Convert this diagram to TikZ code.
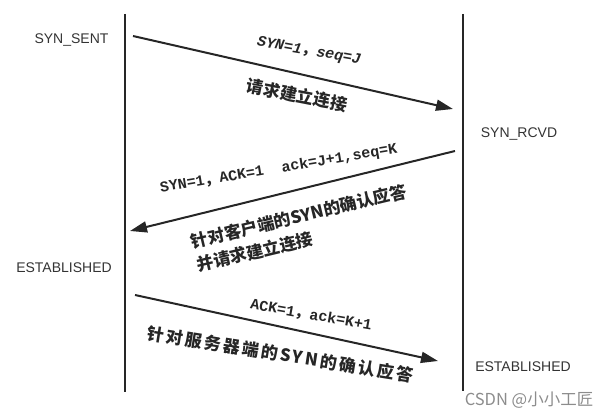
\documentclass[tikz,border=0pt]{standalone}
\usepackage{fontspec}
\setmainfont{Liberation Sans}
\newfontfamily\cjk{Noto Sans CJK SC}
\newfontfamily\mono{Liberation Mono}
\usetikzlibrary{arrows.meta}
\tikzset {>={Triangle[length=17pt,width=11pt]}}
\definecolor{ink}{HTML}{262626}
\definecolor{statecol}{HTML}{333333}
\definecolor{markcol}{HTML}{8C8C8C}
\tikzset{
  state/.style={text=statecol, inner sep=0pt, font=\fontsize{14}{16}\selectfont},
  msg/.style={text=ink, inner sep=0pt, font=\mono\bfseries\fontsize{15}{18}\selectfont},
  note/.style={text=ink, inner sep=0pt, align=left, font=\cjk\bfseries\fontsize{17}{24}\selectfont},
  lifeline/.style={draw=ink, line width=2pt},
  packet/.style={->, draw=ink, line width=2pt}
}

\begin{document}
\begin{tikzpicture}[x=1pt,y=-1pt]
\useasboundingbox (0,0) rectangle (611,417);

% client and server
\draw[lifeline]
  (125,14) coordinate (A) -- (125,392) coordinate (B);
\draw[lifeline]
  (463,14) coordinate (C) -- (463,391) coordinate (D);

\node[state] (sent) at (71.5,40) {SYN\_SENT};
\node[state] (rcvd) at (519,134) {SYN\_RCVD};
\node[state] (estA) at (64,268) {ESTABLISHED};
\node[state] (estB) at (523,366.5) {ESTABLISHED};

% first handshake
\draw[packet] (133,36) coordinate (E) -- (453,109) coordinate (F);
\node[msg, rotate=-10, font=\mono\bfseries\itshape\fontsize{15}{18}\selectfont] (synJ) at (309,51.5)
  {SYN=1{\cjk ，}seq=J};
\node[note, rotate=-11] (req1) at (297,95.3) {请求建立连接};

% second handshake
\draw[packet] (455,151) coordinate (G) -- (130,231) coordinate (H);
\node[msg, rotate=9.5] (synK) at (278.7,168.8)
  {SYN=1{\cjk ，}ACK=1\ \ ack=J+1,seq=K};
\node[note, rotate=13.5] (req2) at (301.6,228.2)
  {针对客户端的SYN的确认应答\\并请求建立连接};

% third handshake
\draw[packet] (135,295) coordinate (I) -- (438,361) coordinate (J);
\node[msg, rotate=-10] (ackK) at (311.2,315.3)
  {ACK=1{\cjk ，}ack=K+1};
\node[note, rotate=-9, font=\cjk\bfseries\fontsize{17}{24}\selectfont\addfontfeature{LetterSpace=13}] (ack3) at (280.3,354.3)
  {针对服务器端的SYN的确认应答};

\node[text=markcol, inner sep=0pt, font=\cjk\fontsize{16.5}{18}\selectfont] (mark) at (529,400)
  {CSDN @小小工匠};
\end{tikzpicture}
\end{document}
